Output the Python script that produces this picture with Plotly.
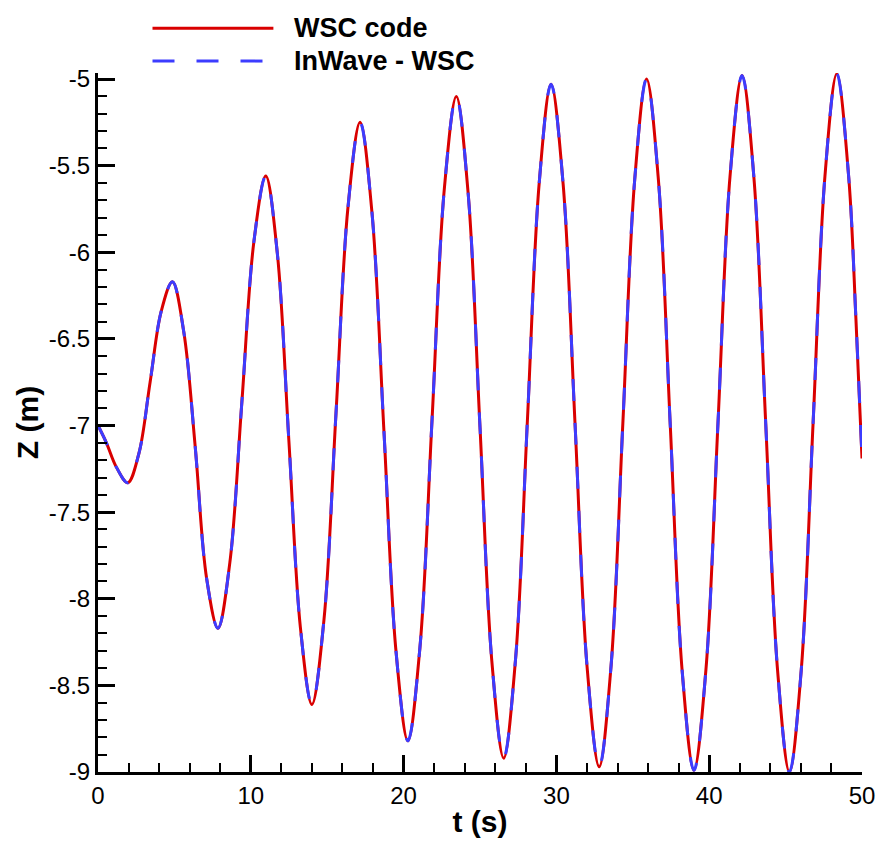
import plotly.graph_objects as go

# data
t_s = [0.0, 0.55, 1.2, 1.95, 2.68, 3.41, 4.14, 4.87, 5.615, 6.36, 7.105, 7.85,
       8.63, 9.415, 10.2, 10.98, 11.735, 12.49, 13.245, 14.0, 14.79, 15.575, 16.36,
       17.15, 17.93, 18.715, 19.50, 20.28, 21.07, 21.865, 22.66, 23.45, 24.225, 25.0,
       25.775, 26.55, 27.325, 28.1, 28.875, 29.65, 30.44, 31.225, 32.01, 32.8, 33.575,
       34.35, 35.125, 35.9, 36.675, 37.45, 38.225, 39.0, 39.79, 40.575, 41.36, 42.15,
       42.925, 43.7, 44.475, 45.25, 46.025, 46.8, 47.575, 48.35, 49.125, 49.6, 50.0]
z_wsc = [-7.00, -7.10, -7.24, -7.33, -7.16, -6.75, -6.34, -6.17, -6.46, -7.12, -7.88,
         -8.17, -7.79, -6.865, -5.94, -5.56, -6.005, -7.085, -8.165, -8.61, -8.12, -6.93,
         -5.74, -5.25, -5.77, -7.035, -8.30, -8.82, -8.28, -6.96, -5.64, -5.10, -5.66,
         -7.01, -8.36, -8.92, -8.35, -6.975, -5.60, -5.03, -5.605, -7.0, -8.395, -8.97,
         -8.39, -6.985, -5.58, -5.00, -5.58, -6.995, -8.41, -8.99, -8.405, -6.985, -5.565,
         -4.98, -5.567, -6.99, -8.413, -9.00, -8.41, -6.985, -5.56, -4.97, -5.56, -6.38, -7.19]
z_inwave = list(z_wsc)

series_names = ["WSC code", "InWave - WSC"]
y_tickvals = [-9, -8.5, -8, -7.5, -7, -6.5, -6, -5.5, -5]
y_ticktext = ["-9", "-8.5", "-8", "-7.5", "-7", "-6.5", "-6", "-5.5", "-5"]
x_tickvals = [0, 10, 20, 30, 40, 50]

RED = "#d90000"
BLUE = "#3c3cff"
FONT = "Liberation Sans, Arial, sans-serif"

fig = go.Figure()
fig.add_trace(go.Scatter(x=t_s, y=z_wsc, mode="lines", name=series_names[0],
                         line=dict(color=RED, width=3, shape="spline"), showlegend=False))
fig.add_trace(go.Scatter(x=t_s, y=z_inwave, mode="lines", name=series_names[1],
                         line=dict(color=BLUE, width=3, shape="spline", dash="22px,22px"),
                         showlegend=False))

# custom legend (long line samples as in reference)
W, H = 771.0, 702.0
def px_x(p):
    return (p - 98) / W
def px_y(p):
    return (775 - p) / H

fig.add_shape(type="line", xref="paper", yref="paper",
              x0=px_x(153), x1=px_x(275), y0=px_y(28), y1=px_y(28),
              line=dict(color=RED, width=3))
fig.add_shape(type="line", xref="paper", yref="paper",
              x0=px_x(153), x1=px_x(275), y0=px_y(61), y1=px_y(61),
              line=dict(color=BLUE, width=3, dash="22px,22px"))
for name, py in zip(series_names, [28, 61]):
    fig.add_annotation(xref="paper", yref="paper", x=px_x(294), y=px_y(py),
                       text=f"<b>{name}</b>", showarrow=False, xanchor="left",
                       yanchor="middle", font=dict(family=FONT, size=27, color="black"))

fig.update_layout(
    width=887, height=846,
    margin=dict(l=98, r=18, t=73, b=71),
    paper_bgcolor="white", plot_bgcolor="white",
    font=dict(family=FONT, size=24, color="black"),
)
fig.update_xaxes(
    range=[0, 50], tickmode="array", tickvals=x_tickvals,
    showgrid=False, zeroline=False,
    showline=True, linewidth=3, linecolor="black",
    ticks="inside", ticklen=17, tickwidth=3, tickcolor="black",
    minor=dict(dtick=2, tick0=0, ticks="inside", ticklen=9, tickwidth=1.5, tickcolor="black", showgrid=False),
    tickfont=dict(family=FONT, size=24),
    title=dict(text="<b>t (s)</b>", font=dict(family=FONT, size=30), standoff=4),
)
fig.update_yaxes(
    range=[-9, -4.965], tickmode="array", tickvals=y_tickvals, ticktext=y_ticktext,
    showgrid=False, zeroline=False,
    showline=True, linewidth=3, linecolor="black",
    ticks="inside", ticklen=17, tickwidth=3, tickcolor="black",
    minor=dict(dtick=0.1, tick0=-9, ticks="inside", ticklen=9, tickwidth=1.5, tickcolor="black", showgrid=False),
    tickfont=dict(family=FONT, size=24),
    title=dict(text="<b>Z (m)</b>", font=dict(family=FONT, size=30), standoff=2),
)

fig.write_html("out.html", config={"displayModeBar": False},
               post_script="document.body.style.margin='0';document.body.style.overflow='hidden';")
